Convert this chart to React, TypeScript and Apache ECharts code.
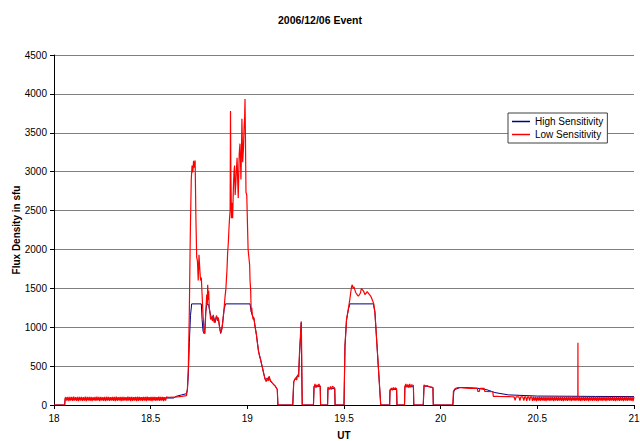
import React, { useEffect, useRef } from "react";
import * as echarts from "echarts";

const FONT = "'Liberation Sans', Arial, Helvetica, sans-serif";

const seriesNames = ["High Sensitivity", "Low Sensitivity"];

// High sensitivity receiver [UT hours, sfu]
const highSens: [number, number][] = [
  [18.0, 0], [18.055, 0], [18.058, 85], [18.2, 85], [18.4, 88], [18.62, 90], [18.63, 110],
  [18.66, 130], [18.685, 145], [18.69, 200], [18.695, 400], [18.7, 800], [18.706, 1150],
  [18.712, 1300], [18.762, 1300], [18.766, 1100], [18.771, 950], [18.776, 920], [18.781, 1000],
  [18.785, 1200], [18.79, 1290], [18.8, 1290], [18.806, 1200], [18.815, 1110], [18.824, 1150],
  [18.833, 1060], [18.841, 1130], [18.85, 1110], [18.857, 1000], [18.862, 920], [18.867, 960],
  [18.872, 1050], [18.88, 1230], [18.887, 1300], [19.014, 1300], [19.02, 1200], [19.026, 1150],
  [19.034, 1110], [19.047, 900], [19.058, 690], [19.069, 580], [19.078, 480], [19.092, 330],
  [19.104, 340], [19.113, 360], [19.12, 300], [19.13, 280], [19.144, 245], [19.155, 200],
  [19.158, 0], [19.235, 0], [19.24, 300], [19.25, 340], [19.26, 380], [19.265, 360],
  [19.27, 650], [19.279, 1060], [19.281, 500], [19.284, 0], [19.342, 0], [19.345, 240],
  [19.377, 240], [19.379, 0], [19.415, 0], [19.417, 210], [19.452, 210], [19.454, 0],
  [19.5, 0], [19.505, 750], [19.513, 1090], [19.522, 1220], [19.53, 1300], [19.652, 1300],
  [19.66, 1190], [19.69, 0], [19.736, 0], [19.738, 200], [19.772, 200], [19.774, 0],
  [19.813, 0], [19.815, 235], [19.859, 235], [19.861, 0], [19.91, 0], [19.914, 250],
  [19.93, 240], [19.96, 225], [19.962, 0], [20.063, 0], [20.068, 170], [20.075, 200],
  [20.1, 225], [20.15, 222], [20.19, 215], [20.24, 195], [20.28, 160], [20.35, 130],
  [20.5, 115], [20.7, 112], [20.8, 110], [21.0, 108],
];

// Low sensitivity receiver: quiet start
const lowStart: [number, number][] = [[18.0, 0], [18.055, 0], [18.058, 90]];

// Low sensitivity: flickering quiet level, 18.062 h onwards, every 0.005 h
const lowNoiseEarlyStart = 18.062;
const lowNoiseEarlyStep = 0.005;
const lowNoiseEarly = [
  102, 55, 105, 50, 104, 58, 103, 52, 106, 56, 101, 54, 105, 50, 103, 57,
  104, 52, 102, 55, 106, 51, 104, 58, 103, 53, 105, 50, 101, 56, 104, 52,
  106, 55, 103, 51, 105, 57, 102, 53, 104, 50, 106, 56, 103, 52, 101, 58,
  105, 54, 104, 51, 106, 55, 102, 57, 103, 50, 105, 53, 104, 56, 101, 52,
  106, 58, 103, 51, 105, 54, 102, 56, 104, 50, 106, 53, 103, 57, 101, 52,
  105, 55, 104, 51, 106, 58, 102, 54, 103, 50, 105, 56, 104, 52, 101, 57,
  106, 53, 103, 55, 105, 51, 102, 56, 104, 98, 100, 97,
];

// Low sensitivity: the event
const lowEvent: [number, number][] = [
  [18.625, 100], [18.66, 110], [18.685, 120], [18.69, 200], [18.695, 500], [18.7, 1200],
  [18.705, 2200], [18.71, 2900], [18.714, 3080], [18.718, 2990], [18.722, 3140], [18.726, 3050],
  [18.73, 3145], [18.734, 2400], [18.738, 1900], [18.742, 1850], [18.746, 1600], [18.75, 1930],
  [18.754, 1750], [18.758, 1600], [18.762, 1640], [18.766, 1420], [18.771, 1150], [18.776, 930],
  [18.781, 920], [18.785, 1200], [18.79, 1420], [18.793, 1300], [18.795, 1545], [18.798, 1350],
  [18.8, 1470], [18.803, 1250], [18.806, 1200], [18.81, 1100], [18.815, 1125], [18.82, 1080],
  [18.824, 1160], [18.828, 1060], [18.833, 1075], [18.837, 1120], [18.841, 1150], [18.846, 1080],
  [18.85, 1125], [18.856, 1000], [18.862, 930], [18.866, 960], [18.87, 1000], [18.875, 1120],
  [18.88, 1250], [18.885, 1400], [18.889, 1490], [18.895, 1750], [18.898, 1950], [18.902, 2100],
  [18.905, 2270], [18.908, 2400], [18.911, 2500], [18.913, 3780], [18.915, 2900], [18.918, 2400],
  [18.921, 2600], [18.924, 2400], [18.928, 2800], [18.931, 3000], [18.934, 3080], [18.937, 2700],
  [18.94, 2825], [18.943, 3000], [18.947, 3180], [18.95, 2900], [18.953, 2660], [18.956, 3000],
  [18.958, 3230], [18.962, 3360], [18.965, 3100], [18.967, 2900], [18.97, 3300], [18.972, 3680],
  [18.974, 3400], [18.976, 3120], [18.98, 3300], [18.983, 3550], [18.986, 3700], [18.988, 3935],
  [18.99, 3500], [18.993, 2735], [18.997, 2700], [19.0, 2400], [19.004, 2000], [19.008, 1900],
  [19.012, 1800], [19.014, 1600], [19.017, 1490], [19.02, 1200], [19.023, 1250], [19.026, 1160],
  [19.03, 1100], [19.034, 1125], [19.04, 1000], [19.047, 910], [19.052, 800], [19.058, 690],
  [19.064, 620], [19.069, 580], [19.074, 520], [19.078, 485], [19.085, 400], [19.092, 330],
  [19.098, 300], [19.104, 350], [19.108, 310], [19.113, 370], [19.118, 320], [19.124, 300],
  [19.13, 280], [19.137, 260], [19.144, 245], [19.15, 220], [19.155, 200], [19.158, 0],
  [19.235, 0], [19.24, 300], [19.245, 330], [19.25, 350], [19.255, 320], [19.26, 390],
  [19.265, 360], [19.27, 680], [19.275, 900], [19.279, 1075], [19.281, 700], [19.284, 0],
  [19.342, 0], [19.345, 230], [19.35, 270], [19.355, 220], [19.36, 260], [19.365, 230],
  [19.37, 270], [19.377, 240], [19.379, 0], [19.415, 0], [19.417, 230], [19.425, 200],
  [19.43, 240], [19.435, 200], [19.44, 240], [19.452, 220], [19.454, 0], [19.5, 0],
  [19.505, 760], [19.513, 1100], [19.522, 1230], [19.53, 1355], [19.535, 1450], [19.539, 1520],
  [19.543, 1545], [19.547, 1500], [19.552, 1520], [19.556, 1480], [19.562, 1440], [19.568, 1420],
  [19.574, 1400], [19.58, 1420], [19.585, 1440], [19.59, 1500], [19.596, 1480], [19.602, 1460],
  [19.608, 1420], [19.615, 1440], [19.62, 1460], [19.625, 1440], [19.632, 1420], [19.638, 1400],
  [19.642, 1380], [19.648, 1340], [19.654, 1300], [19.66, 1190], [19.69, 0], [19.736, 0],
  [19.738, 180], [19.745, 220], [19.75, 190], [19.755, 225], [19.76, 195], [19.765, 220],
  [19.772, 210], [19.774, 0], [19.813, 0], [19.815, 240], [19.82, 270], [19.825, 230],
  [19.83, 265], [19.835, 225], [19.84, 270], [19.845, 230], [19.85, 260], [19.859, 250],
  [19.861, 0], [19.91, 0], [19.914, 260], [19.92, 240], [19.93, 250], [19.94, 235],
  [19.95, 230], [19.96, 225], [19.962, 0], [20.063, 0], [20.066, 180], [20.075, 210],
  [20.09, 225], [20.12, 220], [20.15, 215], [20.19, 215], [20.192, 175], [20.2, 175],
  [20.203, 215], [20.225, 215], [20.228, 175], [20.27, 172], [20.272, 112], [20.3, 110],
  [20.35, 108],
];

// Low sensitivity: flickering quiet level, 20.37 h onwards, every 0.005 h
const lowNoiseLateStart = 20.37;
const lowNoiseLateStep = 0.005;
const lowNoiseLate = [
  106, 105, 104, 60, 105, 106, 104, 105, 55, 106, 104, 105, 58, 106, 104, 52,
  105, 106, 56, 104, 105, 53, 106, 57, 104, 51, 105, 55, 106, 52, 104, 58,
  105, 54, 106, 50, 104, 56, 105, 53, 106, 57, 104, 51, 105, 55, 106, 52,
  104, 58, 105, 54, 106, 50, 104, 56, 105, 53, 106, 57, 104, 51, 105, 55,
  106, 52, 104, 58, 105, 54, 106, 50, 104, 56, 105, 53, 106, 57, 104, 51,
  105, 55, 106, 52, 104, 58, 105, 54, 106, 50, 104, 56, 105, 53, 106, 57,
  104, 51, 105, 55, 106, 52, 104, 58, 105, 54, 106, 50, 104, 56, 105, 53,
  106, 57, 104, 51, 105, 55, 106, 52, 104, 58, 105, 54, 106, 50, 104, 56,
  105,
];

// Isolated spike
const lowSpike: [number, number][] = [[20.7095, 105], [20.71, 800], [20.7105, 105]];

export default function App() {
  const ref = useRef<HTMLDivElement>(null);

  useEffect(() => {
    if (!ref.current) return;
    const chart = echarts.init(ref.current, null, { renderer: "svg" });

    const lowData: [number, number][] = [
      ...lowStart,
      ...lowNoiseEarly.map((v, i) => [lowNoiseEarlyStart + i * lowNoiseEarlyStep, v] as [number, number]),
      ...lowEvent,
      ...lowNoiseLate.map((v, i) => [lowNoiseLateStart + i * lowNoiseLateStep, v] as [number, number]),
      ...lowSpike,
    ]
      .filter((p) => p[0] <= 21)
      .sort((a, b) => a[0] - b[0]);

    chart.setOption({
      animation: false,
      backgroundColor: "#ffffff",
      title: {
        text: "2006/12/06 Event",
        left: "center",
        top: 9,
        textStyle: { fontFamily: FONT, fontSize: 10.5, fontWeight: "bold", color: "#000" },
      },
      legend: {
        data: seriesNames,
        orient: "vertical",
        left: 508,
        top: 113,
        icon: "rect",
        itemWidth: 18,
        itemHeight: 1.5,
        itemGap: 2,
        padding: [3, 4, 3, 4],
        backgroundColor: "#ffffff",
        borderColor: "#404040",
        borderWidth: 1,
        textStyle: { fontFamily: FONT, fontSize: 10, color: "#000", lineHeight: 11 },
      },
      grid: { left: 54, right: 6, top: 55, bottom: 36, containLabel: false, outerBoundsMode: "none" },
      xAxis: {
        type: "value",
        min: 18,
        max: 21,
        interval: 0.5,
        name: "UT",
        nameLocation: "middle",
        nameGap: 25,
        nameMoveOverlap: false,
        nameTextStyle: { fontFamily: FONT, fontSize: 10, fontWeight: "bold", color: "#000" },
        axisLine: { lineStyle: { color: "#000", width: 1 } },
        axisTick: { length: 4, lineStyle: { color: "#000" } },
        axisLabel: { margin: 8, fontFamily: FONT, fontSize: 10, color: "#000", formatter: (v: number) => String(v) },
        splitLine: { show: false },
      },
      yAxis: {
        type: "value",
        min: 0,
        max: 4500,
        interval: 500,
        name: "Flux Density in sfu",
        nameLocation: "middle",
        nameGap: 33,
        nameMoveOverlap: false,
        nameTextStyle: { fontFamily: FONT, fontSize: 10, fontWeight: "bold", color: "#000" },
        axisLine: { show: true, lineStyle: { color: "#000", width: 1 } },
        axisTick: { show: true, length: 4, lineStyle: { color: "#000" } },
        axisLabel: { margin: 7, fontFamily: FONT, fontSize: 10, color: "#000", formatter: (v: number) => String(v) },
        splitLine: { show: true, lineStyle: { color: "#808080", width: 1 } },
      },
      series: [
        {
          name: seriesNames[0],
          type: "line",
          data: highSens,
          showSymbol: false,
          symbol: "none",
          lineStyle: { color: "#000080", width: 1 },
          itemStyle: { color: "#000080" },
          z: 2,
        },
        {
          name: seriesNames[1],
          type: "line",
          data: lowData,
          showSymbol: false,
          symbol: "none",
          lineStyle: { color: "#ff0000", width: 1.2 },
          itemStyle: { color: "#ff0000" },
          z: 3,
        },
      ],
    });

    return () => chart.dispose();
  }, []);

  return (
    <div
      ref={ref}
      style={{ position: "fixed", left: 0, top: 0, width: 640, height: 441, background: "#fff" }}
    />
  );
}
